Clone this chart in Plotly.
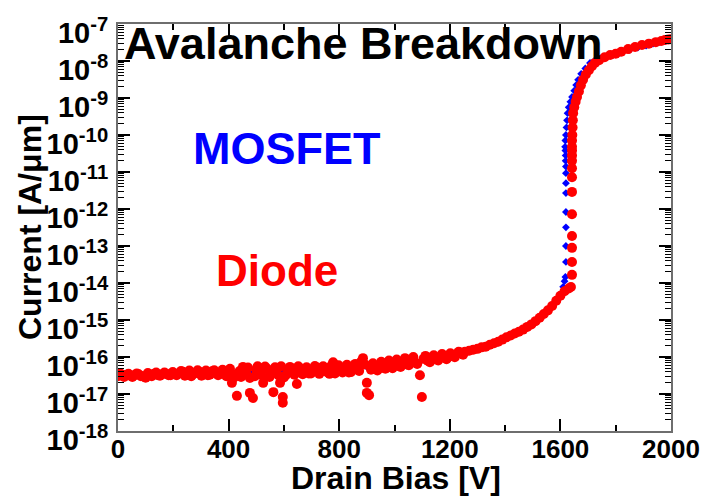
import plotly.graph_objects as go

# ---------------- data ----------------
mosfet_v = [0, 25, 50, 75, 100, 125, 150, 175, 200, 225, 250, 275, 300, 325, 350, 375,
            400, 425, 450, 475, 500, 525, 550, 575, 600, 625, 650, 675, 700, 725, 750, 775,
            800, 825, 850, 875, 900, 925, 950, 975, 1000, 1025, 1050, 1075, 1100, 1125, 1150,
            1175, 1200, 1225, 1250, 1275, 1300, 1325, 1350, 1375, 1400, 1425, 1450, 1475, 1500,
            1525, 1550, 1575, 1590, 1600, 1610, 1615, 1618, 1620, 1620, 1620, 1620, 1620, 1620,
            1620, 1620, 1619, 1619, 1618, 1617, 1618, 1620, 1622, 1624, 1626, 1630, 1636, 1642,
            1650, 1657, 1664, 1675, 1690, 1707, 1725, 1745, 1768, 1790, 1815, 1851, 1880, 1910,
            1935, 1960, 1980, 2000]
mosfet_i = [3.1e-17, 3.2e-17, 3.2e-17, 3.2e-17, 3.3e-17, 3.4e-17, 3.4e-17, 3.5e-17, 3.5e-17,
            3.5e-17, 3.5e-17, 3.6e-17, 3.6e-17, 3.7e-17, 3.7e-17, 3.7e-17, 3.8e-17, 3.8e-17,
            3.9e-17, 3.9e-17, 3.9e-17, 4.0e-17, 4.0e-17, 4.1e-17, 4.1e-17, 4.2e-17, 4.2e-17,
            4.3e-17, 4.3e-17, 4.4e-17, 4.5e-17, 4.5e-17, 4.6e-17, 4.8e-17, 4.9e-17, 5.1e-17,
            5.4e-17, 5.6e-17, 5.9e-17, 6.3e-17, 6.8e-17, 7.1e-17, 7.6e-17, 8.1e-17, 8.5e-17,
            9.1e-17, 9.5e-17, 1.0e-16, 1.1e-16, 1.17e-16, 1.29e-16, 1.45e-16, 1.62e-16, 1.82e-16,
            2.1e-16, 2.45e-16, 3.2e-16, 3.8e-16, 4.6e-16, 5.8e-16, 7.9e-16, 1.17e-15, 1.66e-15,
            2.6e-15, 3.8e-15, 5.0e-15, 7.9e-15, 1.12e-14, 1.45e-14, 3.7e-14, 1.0e-13, 3.2e-13,
            8.3e-13, 2.7e-12, 5.0e-12, 9.3e-12, 1.4e-11, 2.0e-11, 2.8e-11, 3.8e-11, 4.8e-11,
            7.1e-11, 1.0e-10, 1.6e-10, 2.5e-10, 3.9e-10, 5.6e-10, 7.9e-10, 1.07e-09, 1.58e-09,
            2.24e-09, 3.1e-09, 4.5e-09, 6.3e-09, 8.9e-09, 1.05e-08, 1.17e-08, 1.29e-08, 1.45e-08,
            1.66e-08, 2.0e-08, 2.3e-08, 2.6e-08, 2.95e-08, 3.24e-08, 3.47e-08, 3.7e-08]

diode_v = [0, 15, 30, 45, 60, 75, 90, 100, 115, 130, 145, 160, 175, 190, 205, 220, 235, 250,
           265, 280, 295, 310, 325, 340, 355, 370, 385, 400, 412, 420, 430, 440, 452, 465, 477,
           477, 488, 500, 512, 525, 540, 555, 562, 575, 586, 596, 596, 600, 615, 630, 647, 660,
           675, 690, 705, 720, 735, 750, 765, 778, 790, 805, 820, 835, 850, 865, 886, 893, 900,
           900, 908, 915, 930, 945, 960, 973, 985, 1000, 1015, 1030, 1045, 1060, 1075, 1092,
           1099, 1105, 1120, 1135, 1150, 1165, 1180, 1195, 1210, 1225, 1240, 1255, 1270, 1285,
           1300, 1315, 1330, 1345, 1360, 1375, 1390, 1405, 1420, 1435, 1450, 1465, 1480, 1495,
           1510, 1525, 1540, 1555, 1570, 1585, 1600, 1615, 1630, 1638, 1642, 1642, 1642, 1642,
           1642, 1642, 1642, 1642, 1642, 1642, 1642, 1642, 1642, 1643, 1644, 1645, 1646, 1650,
           1655, 1660, 1667, 1674, 1682, 1692, 1703, 1714, 1725, 1740, 1760, 1780, 1800, 1820,
           1845, 1870, 1895, 1920, 1945, 1965, 1978, 1990, 2000]
diode_i = [3.0e-17, 3.2e-17, 3.3e-17, 3.1e-17, 3.2e-17, 3.4e-17, 3.0e-17, 2.75e-17, 3.3e-17,
           3.5e-17, 3.2e-17, 3.4e-17, 3.5e-17, 3.2e-17, 3.5e-17, 3.6e-17, 4.0e-17, 3.3e-17,
           3.0e-17, 3.7e-17, 3.9e-17, 3.4e-17, 3.2e-17, 4.1e-17, 3.6e-17, 3.5e-17, 4.0e-17,
           3.5e-17, 2.0e-17, 2.8e-17, 8.9e-18, 4.2e-17, 5.4e-17, 3.4e-17, 2.7e-17, 1.07e-17,
           7.8e-18, 4.5e-17, 5.0e-17, 2.0e-17, 4.7e-17, 3.6e-17, 1.12e-17, 5.0e-17, 2.0e-17,
           8.3e-18, 5.8e-18, 2.8e-17, 4.5e-17, 3.8e-17, 1.86e-17, 4.9e-17, 4.2e-17, 3.6e-17,
           4.6e-17, 5.2e-17, 4.0e-17, 4.7e-17, 3.5e-17, 7.2e-17, 4.8e-17, 4.2e-17, 5.1e-17,
           3.8e-17, 4.5e-17, 5.0e-17, 9.3e-17, 6.3e-17, 2.0e-17, 1.07e-17, 9.3e-18, 4.5e-17,
           5.6e-17, 5.0e-17, 6.0e-17, 6.9e-17, 5.5e-17, 6.6e-17, 5.8e-17, 7.4e-17, 6.3e-17,
           8.3e-17, 7.1e-17, 3.2e-17, 8.3e-18, 8.9e-17, 7.9e-17, 9.5e-17, 8.7e-17, 1.0e-16,
           1.05e-16, 1.0e-16, 1.15e-16, 1.2e-16, 1.32e-16, 1.38e-16, 1.48e-16, 1.58e-16,
           1.66e-16, 1.82e-16, 1.9e-16, 2.14e-16, 2.34e-16, 2.57e-16, 2.95e-16, 3.4e-16,
           3.8e-16, 4.3e-16, 4.8e-16, 5.5e-16, 6.5e-16, 7.6e-16, 9.3e-16, 1.15e-15, 1.45e-15,
           1.82e-15, 2.4e-15, 3.3e-15, 4.5e-15, 6.0e-15, 7.1e-15, 7.8e-15, 1.66e-14, 3.7e-14,
           8.9e-14, 1.86e-13, 7.2e-13, 2.9e-12, 7.2e-12, 1.26e-11, 2.0e-11, 2.8e-11, 3.8e-11,
           4.8e-11, 7.1e-11, 1.0e-10, 1.6e-10, 2.5e-10, 3.9e-10, 5.6e-10, 7.9e-10, 1.07e-09,
           1.51e-09, 2.2e-09, 3.1e-09, 4.3e-09, 5.6e-09, 7.2e-09, 8.9e-09, 1.05e-08, 1.26e-08,
           1.45e-08, 1.58e-08, 1.78e-08, 2.1e-08, 2.4e-08, 2.7e-08, 2.95e-08, 3.24e-08,
           3.47e-08, 3.7e-08, 3.8e-08, 3.9e-08]

# additional diode measurements in the thick low-bias band
diode_band_v = [8, 22, 38, 52, 68, 83, 108, 122, 138, 152, 168, 183, 198, 212, 228, 242, 258,
                272, 288, 302, 318, 332, 348, 362, 378, 392, 405, 425, 445, 458, 470, 495, 505,
                518, 532, 548, 568, 580, 590, 608, 622, 638, 652, 668, 682, 698, 712, 728, 742,
                758, 772, 785, 798, 812, 828, 842, 858, 872, 880, 922, 938, 952, 967, 980, 993,
                1008, 1022, 1038, 1052, 1068, 1082, 1112, 1128, 1142, 1158, 1172, 1188, 1202,
                1218, 1232, 1248]
diode_band_i = [3.6e-17, 2.9e-17, 3.5e-17, 2.9e-17, 3.6e-17, 3.0e-17, 3.7e-17, 3.0e-17, 3.8e-17,
                3.1e-17, 3.8e-17, 3.2e-17, 3.9e-17, 3.2e-17, 4.2e-17, 3.1e-17, 4.3e-17, 3.4e-17,
                4.4e-17, 3.1e-17, 4.3e-17, 3.3e-17, 4.4e-17, 3.2e-17, 4.5e-17, 3.0e-17, 4.8e-17,
                3.3e-17, 2.9e-17, 4.6e-17, 5.2e-17, 3.0e-17, 5.6e-17, 3.3e-17, 5.5e-17, 2.9e-17,
                5.3e-17, 3.2e-17, 5.6e-17, 3.3e-17, 5.4e-17, 3.3e-17, 5.6e-17, 3.4e-17, 5.3e-17,
                3.6e-17, 5.7e-17, 3.5e-17, 5.6e-17, 3.8e-17, 5.9e-17, 3.6e-17, 6.0e-17, 3.8e-17,
                6.2e-17, 3.9e-17, 6.5e-17, 4.2e-17, 7.6e-17, 6.8e-17, 4.3e-17, 7.4e-17, 4.8e-17,
                8.0e-17, 5.0e-17, 8.5e-17, 5.4e-17, 9.3e-17, 6.0e-17, 1.0e-16, 6.5e-17, 1.07e-16,
                7.2e-17, 1.12e-16, 8.0e-17, 1.2e-16, 8.7e-17, 1.26e-16, 9.8e-17, 1.38e-16,
                1.15e-16]

x_ticks = [0, 400, 800, 1200, 1600, 2000]
x_minor_ticks = [200, 600, 1000, 1400, 1800]
y_exponents = list(range(-18, -6))
y_tickvals = [10.0 ** e for e in y_exponents]
y_ticktext = ["10<sup>%d</sup>" % e for e in y_exponents]
y_minor = [m * 10.0 ** e for e in y_exponents[:-1] for m in range(2, 10)]

FONT = "Liberation Sans, Arial, Helvetica, sans-serif"
AX = "#6e6e6e"

# plot-area pixel geometry
L, R, T, B = 118, 671, 24, 431
W, H = R - L, B - T


def px(x):
    return (x - L) / W


def py(y):
    return (B - y) / H


fig = go.Figure()
fig.add_trace(go.Scatter(x=mosfet_v, y=mosfet_i, mode="markers", name="MOSFET",
                         marker=dict(symbol="diamond", size=6, color="#0000ff", line=dict(width=0))))
fig.add_trace(go.Scatter(x=diode_v + diode_band_v, y=diode_i + diode_band_i, mode="markers",
                         name="Diode",
                         marker=dict(symbol="circle", size=10, color="#ff0000", line=dict(width=0))))

fig.update_layout(
    width=708, height=496,
    margin=dict(l=L, r=708 - R, t=T, b=496 - B),
    paper_bgcolor="white", plot_bgcolor="white",
    showlegend=False,
    font=dict(family=FONT, color="black", weight="bold"),
    xaxis=dict(
        range=[0, 2000], tickmode="array", tickvals=x_ticks, automargin=False,
        ticks="inside", ticklen=12, tickwidth=1.5, tickcolor="black",
        showline=True, linecolor=AX, linewidth=2, mirror="ticks",
        showgrid=False, zeroline=False, ticklabeloverflow="allow",
        tickfont=dict(size=26, family=FONT, weight="bold"), ticklabelstandoff=-6,
        minor=dict(tickmode="array", tickvals=x_minor_ticks,
                   ticks="inside", ticklen=6, tickwidth=1.5, tickcolor="black", showgrid=False),
    ),
    yaxis=dict(
        type="log", range=[-18.0005, -6.9995], tickmode="array", tickvals=y_tickvals,
        ticktext=y_ticktext, automargin=False, ticklabeloverflow="allow",
        ticks="inside", ticklen=12, tickwidth=1.5, tickcolor="black",
        showline=True, linecolor=AX, linewidth=2, mirror="ticks",
        showgrid=False, zeroline=False,
        tickfont=dict(size=29, family=FONT, weight="bold"),
        ticklabelshift=9, ticklabelstandoff=2,
        minor=dict(tickmode="array", tickvals=y_minor,
                   ticks="inside", ticklen=6, tickwidth=1, tickcolor="black", showgrid=False),
    ),
    annotations=[
        dict(text="Avalanche Breakdown", xref="paper", yref="paper",
             x=px(122), y=py(43), xanchor="left", yanchor="middle",
             showarrow=False, font=dict(size=45, color="black", family=FONT, weight="bold")),
        dict(text="MOSFET", xref="paper", yref="paper",
             x=px(287), y=py(148), xanchor="center", yanchor="middle",
             showarrow=False, font=dict(size=45, color="#0000ff", family=FONT, weight="bold")),
        dict(text="Diode", xref="paper", yref="paper",
             x=px(277), y=py(270), xanchor="center", yanchor="middle",
             showarrow=False, font=dict(size=44, color="#ff0000", family=FONT, weight="bold")),
        dict(text="Drain Bias [V]", xref="paper", yref="paper",
             x=px(396), y=py(478), xanchor="center", yanchor="middle",
             showarrow=False, font=dict(size=32, color="black", family=FONT, weight="bold")),
        dict(text="Current [A/μm]", xref="paper", yref="paper", textangle=-90,
             x=px(30), y=py(227), xanchor="center", yanchor="middle",
             showarrow=False, font=dict(size=32, color="black", family=FONT, weight="bold")),
    ],
)

fig.write_html("out.html")
